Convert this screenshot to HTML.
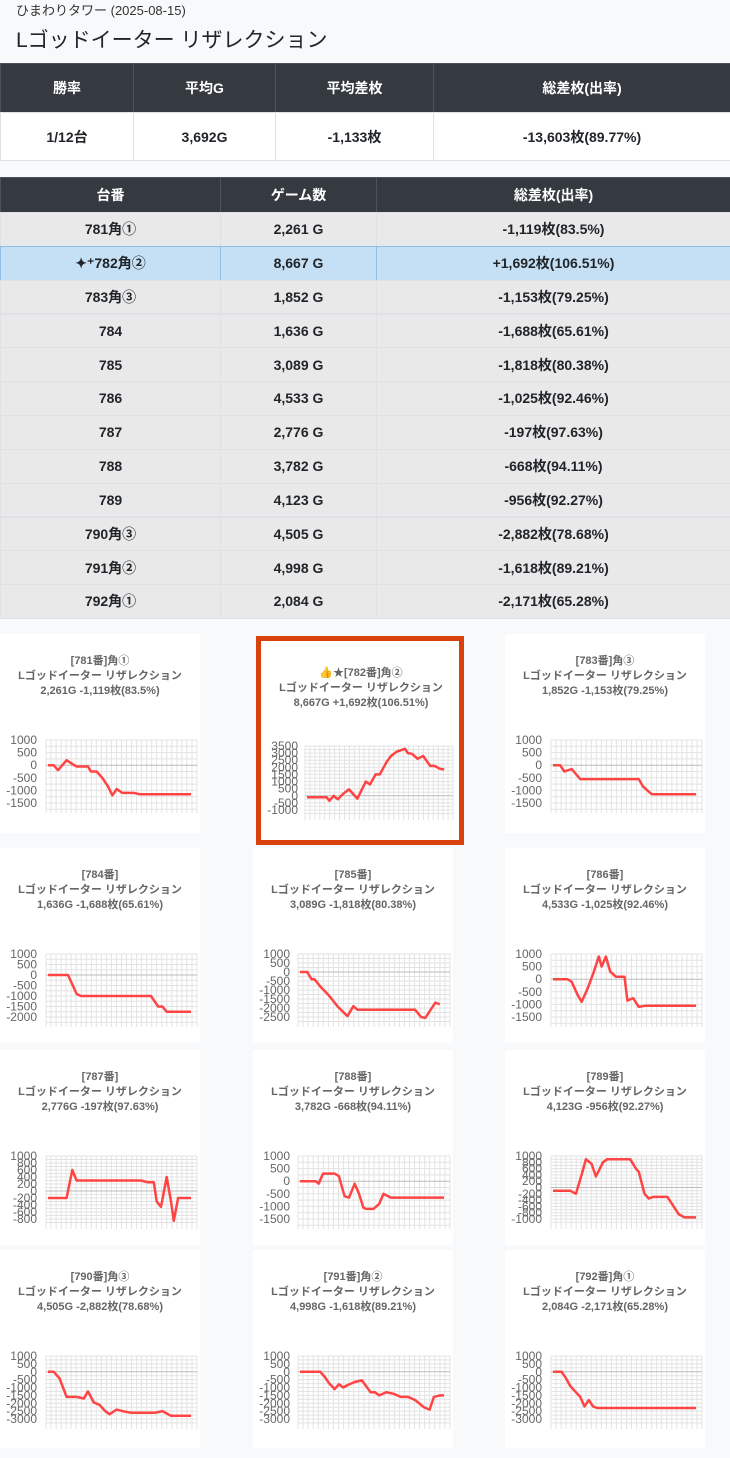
<!DOCTYPE html><html><head><meta charset="utf-8"><style>
body{margin:0;background:#f8f9fa;font-family:"Liberation Sans","Noto Sans CJK JP",sans-serif;color:#212529;width:730px;height:1448px;position:relative;overflow:hidden}
.sub{position:absolute;left:16px;top:0;font-size:13px;color:#333}
.ttl{position:absolute;left:16px;top:24px;font-size:21px;color:#212529}
.c{position:absolute;box-sizing:border-box;display:flex;align-items:center;justify-content:center;font-size:14px;font-weight:bold;border:1px solid #dee2e6}
.h{background:#343a40;color:#fff;border-color:#4b545c}
.cell{position:absolute;background:#fff}
svg text{font-family:"Liberation Sans","Noto Sans CJK JP",sans-serif}
</style></head><body>
<div class="sub">ひまわりタワー (2025-08-15)</div>
<div class="ttl">Lゴッドイーター リザレクション</div>
<div id="tb"></div>
<div id="charts"></div>
<script>
var tb="";
function cell(x,y,w,h,t,cls,bg,bc){tb+='<div class="c '+(cls||'')+'" style="left:'+x+'px;top:'+y+'px;width:'+w+'px;height:'+h+'px;'+(bg?'background:'+bg+';':'')+(bc?'border-color:'+bc+';':'')+'">'+t+'</div>';}
var X1=[0,133,275,433,730];
["勝率","平均G","平均差枚","総差枚(出率)"].forEach(function(t,i){cell(X1[i],63,X1[i+1]-X1[i]+1,50,t,'h');});
["1/12台","3,692G","-1,133枚","-13,603枚(89.77%)"].forEach(function(t,i){cell(X1[i],112,X1[i+1]-X1[i]+1,49,t,'',"#fff");});
var X2=[0,220,376,730];
["台番","ゲーム数","総差枚(出率)"].forEach(function(t,i){cell(X2[i],177,X2[i+1]-X2[i]+1,36,t,'h');});
var rows=[["781角①","2,261 G","-1,119枚(83.5%)"],["✦⁺782角②","8,667 G","+1,692枚(106.51%)"],["783角③","1,852 G","-1,153枚(79.25%)"],["784","1,636 G","-1,688枚(65.61%)"],["785","3,089 G","-1,818枚(80.38%)"],["786","4,533 G","-1,025枚(92.46%)"],["787","2,776 G","-197枚(97.63%)"],["788","3,782 G","-668枚(94.11%)"],["789","4,123 G","-956枚(92.27%)"],["790角③","4,505 G","-2,882枚(78.68%)"],["791角②","4,998 G","-1,618枚(89.21%)"],["792角①","2,084 G","-2,171枚(65.28%)"]];
rows.forEach(function(r,j){var y=212+j*33.83;var hl=j==1;r.forEach(function(t,i){cell(X2[i],y.toFixed(1),X2[i+1]-X2[i]+1,34.8,t,'',hl?"#c5e0f5":"#e9e9e9",hl?"#8fbfe8":null);});});
document.getElementById("tb").innerHTML=tb;
function R(a,b,s){var r=[];for(var v=a;v>=b;v-=s)r.push(v);return r;}
var C=[
[0,634,"[781番]角①","2,261G -1,119枚(83.5%)",R(1000,-1500,500),[[0,0],[.04,0],[.07,-200],[.13,200],[.17,50],[.2,-50],[.28,-50],[.3,-250],[.34,-250],[.38,-500],[.42,-850],[.45,-1200],[.48,-950],[.52,-1100],[.6,-1100],[.64,-1150],[1,-1150]]],
[1,634,"👍★[782番]角②","8,667G +1,692枚(106.51%)",R(3500,-1000,500),[[0,-100],[.14,-100],[.16,-350],[.19,0],[.22,-250],[.26,150],[.3,450],[.36,-200],[.42,1000],[.45,800],[.49,1500],[.52,1500],[.57,2400],[.6,2800],[.64,3100],[.7,3300],[.72,3000],[.75,2950],[.79,2600],[.83,2800],[.88,2100],[.91,2100],[.95,1900],[.98,1850]]],
[2,634,"[783番]角③","1,852G -1,153枚(79.25%)",R(1000,-1500,500),[[0,0],[.05,0],[.08,-250],[.13,-150],[.19,-550],[.6,-550],[.63,-850],[.69,-1150],[1,-1150]]],
[0,848,"[784番]","1,636G -1,688枚(65.61%)",R(1000,-2000,500),[[0,0],[.14,0],[.2,-900],[.23,-1000],[.72,-1000],[.77,-1500],[.8,-1500],[.83,-1750],[1,-1750]]],
[1,848,"[785番]","3,089G -1,818枚(80.38%)",R(1000,-2500,500),[[0,0],[.05,0],[.08,-400],[.1,-400],[.14,-800],[.2,-1300],[.26,-1900],[.31,-2300],[.33,-2450],[.37,-1900],[.4,-2100],[.8,-2100],[.84,-2500],[.87,-2550],[.94,-1700],[.97,-1800]]],
[2,848,"[786番]","4,533G -1,025枚(92.46%)",R(1000,-1500,500),[[0,0],[.1,0],[.13,-100],[.17,-600],[.2,-900],[.24,-400],[.28,200],[.32,900],[.34,500],[.37,900],[.4,300],[.44,100],[.5,100],[.52,-850],[.56,-750],[.6,-1100],[.65,-1050],[1,-1050]]],
[0,1050,"[787番]","2,776G -197枚(97.63%)",R(1000,-800,200),[[0,-200],[.13,-200],[.17,600],[.2,300],[.65,300],[.7,250],[.74,250],[.76,-300],[.79,-450],[.83,400],[.86,-300],[.88,-850],[.91,-200],[1,-200]]],
[1,1050,"[788番]","3,782G -668枚(94.11%)",R(1000,-1500,500),[[0,0],[.11,0],[.13,-100],[.16,300],[.24,300],[.27,200],[.31,-600],[.34,-650],[.38,-100],[.41,-500],[.44,-1050],[.46,-1100],[.51,-1100],[.55,-900],[.58,-500],[.63,-650],[1,-650]]],
[2,1050,"[789番]","4,123G -956枚(92.27%)",R(1000,-1000,200),[[0,-100],[.12,-100],[.16,-200],[.2,400],[.23,900],[.27,750],[.3,350],[.35,800],[.38,900],[.54,900],[.58,600],[.6,500],[.64,-200],[.67,-350],[.7,-300],[.8,-300],[.88,-850],[.92,-950],[1,-950]]],
[0,1250,"[790番]角③","4,505G -2,882枚(78.68%)",R(1000,-3000,500),[[0,0],[.04,0],[.08,-400],[.13,-1600],[.2,-1600],[.25,-1700],[.28,-1250],[.32,-1950],[.36,-2100],[.4,-2500],[.43,-2700],[.48,-2400],[.52,-2500],[.58,-2600],[.75,-2600],[.8,-2500],[.86,-2800],[1,-2800]]],
[1,1250,"[791番]角②","4,998G -1,618枚(89.21%)",R(1000,-3000,500),[[0,0],[.14,0],[.17,-300],[.2,-700],[.24,-1100],[.27,-800],[.3,-1000],[.33,-850],[.38,-650],[.43,-550],[.49,-1300],[.52,-1300],[.55,-1500],[.6,-1300],[.65,-1400],[.7,-1600],[.75,-1600],[.8,-1800],[.86,-2250],[.9,-2400],[.93,-1600],[.97,-1500],[1,-1500]]],
[2,1250,"[792番]角①","2,084G -2,171枚(65.28%)",R(1000,-3000,500),[[0,0],[.06,0],[.09,-400],[.12,-900],[.15,-1200],[.19,-1600],[.22,-2200],[.25,-1800],[.28,-2200],[.31,-2300],[1,-2300]]]
];
var h="";
C.forEach(function(c){
 var col=c[0],top=c[1],hl=(c[2].indexOf("782")>=0);
 var L=[0,253,505][col],W=200,H=(top==634?199:(top==1250?198:195));
 var st="left:"+L+"px;top:"+top+"px;width:"+W+"px;height:"+H+"px";
 if(hl){st="left:256px;top:636px;width:198px;height:199px;border:5px solid #d9420c";}
 var ty=hl?35:30, py=hl?110:106;
 var s='<div class="cell" style="'+st+'"><svg width="'+(W+10)+'" height="'+(H+10)+'" style="position:absolute;left:0;top:0">';
 var cx=100;
 [c[2],"Lゴッドイーター リザレクション",c[3]].forEach(function(t,i){s+='<text x="'+cx+'" y="'+(ty+i*15)+'" text-anchor="middle" font-size="11" font-weight="bold" fill="#666">'+t+'</text>';});
 var gx0=hl?44:46, gx1=hl?192:197, lx=37;
 if(col==1&&!hl){gx0=45;}
 var t=c[4],n=t.length,y0=py-(hl?5:0),y1=y0+63+(hl?1:0),yb=y1+10;
 var vmax=t[0],vmin=t[n-1];
 function Y(v){return y0+(vmax-v)/(vmax-vmin)*(y1-y0);}
 for(var x=gx0;x<=gx1+0.1;x+=(gx1-gx0)/30)s+='<line x1="'+x.toFixed(1)+'" y1="'+y0+'" x2="'+x.toFixed(1)+'" y2="'+yb+'" stroke="#e3e3e3" stroke-width="1"/>';
 var sub=(t[0]-t[1])/2;
 for(var v=vmax;v>=vmin-sub-1e-6;v-=sub){var yy=Y(v);if(yy>yb)break;s+='<line x1="'+gx0+'" y1="'+yy.toFixed(1)+'" x2="'+gx1+'" y2="'+yy.toFixed(1)+'" stroke="'+(v==0?'#bbb':'#e3e3e3')+'" stroke-width="1"/>';}
 t.forEach(function(v){s+='<text x="'+lx+'" y="'+(Y(v)+4).toFixed(1)+'" text-anchor="end" font-size="12" fill="#666">'+v+'</text>';});
 var pts=c[5].map(function(p){return (gx0+2+p[0]*(gx1-gx0-8)).toFixed(1)+","+Y(p[1]).toFixed(1);}).join(" ");
 s+='<polyline points="'+pts+'" fill="none" stroke="#ff4444" stroke-width="2.5" stroke-linejoin="round"/>';
 s+='</svg></div>';h+=s;
});
document.getElementById("charts").innerHTML=h;
</script>
</body></html>
